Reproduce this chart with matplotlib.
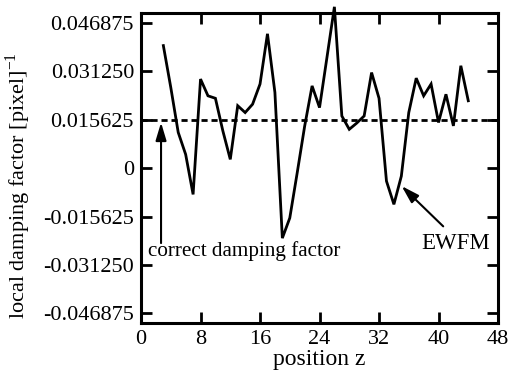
import matplotlib
matplotlib.use("Agg")
import matplotlib.pyplot as plt

z = list(range(3, 45))
damping = [0.0395, 0.026, 0.0115, 0.0044, -0.0085, 0.0287, 0.0233, 0.0225, 0.012, 0.0028,
           0.0201, 0.0179, 0.0206, 0.0271, 0.0433, 0.0244, -0.0226, -0.0161, -0.0015, 0.0135,
           0.0265, 0.0195, 0.0357, 0.052, 0.0168, 0.0125, 0.0145, 0.0168, 0.0308, 0.0225,
           -0.0042, -0.0117, -0.0026, 0.0179, 0.029, 0.0233, 0.0271, 0.0147, 0.0238, 0.0136,
           0.033, 0.0217]
correct_value = 0.015625
xticks = [0, 8, 16, 24, 32, 40, 48]
yticks = [0.046875, 0.03125, 0.015625, 0, -0.015625, -0.03125, -0.046875]
ytick_labels = ["0.046875", "0.031250", "0.015625", "0", "-0.015625", "-0.031250", "-0.046875"]

plt.rcParams['font.family'] = ['Liberation Serif', 'DejaVu Serif']
plt.rcParams['axes.unicode_minus'] = False

fig = plt.figure(figsize=(5.11, 3.81), dpi=100)
ax = fig.add_axes([0.276, 0.152, 0.6986, 0.8138])

ax.plot(z, damping, color='black', lw=2.0, clip_on=False, solid_joinstyle='miter', zorder=3)
ax.axhline(correct_value, color='black', lw=2.0, linestyle=(0, (2.2, 1.4)), zorder=2)

ax.set_xlim(0, 48)
ax.set_ylim(-0.05, 0.05)
ax.set_xticks(xticks)
ax.set_xticklabels([str(t) for t in xticks])
ax.set_yticks(yticks)
ax.set_yticklabels(ytick_labels)
ax.tick_params(direction='in', length=8, width=2, top=True, right=True, labelsize=16, pad=5)
for s in ax.spines.values():
    s.set_linewidth(2.2)

ax.set_xlabel("position z", fontsize=17, labelpad=0)
ax.set_ylabel("local damping factor [pixel]$^{\\mathregular{-1}}$", fontsize=16)
ax.yaxis.set_label_coords(-0.302, 0.445)

arrow_props = dict(arrowstyle='-|>,head_length=0.6,head_width=0.18', color='black',
                   lw=1.5, mutation_scale=18, shrinkA=0, shrinkB=0)
ax.annotate("", xy=(2.69, 0.0147), xytext=(2.69, -0.0242), arrowprops=arrow_props)
ax.text(0.94, -0.0268, "correct damping factor", fontsize=15.2, ha='left', va='center')

ax.annotate("", xy=(35.04, -0.0058), xytext=(40.63, -0.0188), arrowprops=arrow_props)
ax.text(42.3, -0.0242, "EWFM", fontsize=16.5, ha='center', va='center')

fig.savefig("out.png", dpi=100)
